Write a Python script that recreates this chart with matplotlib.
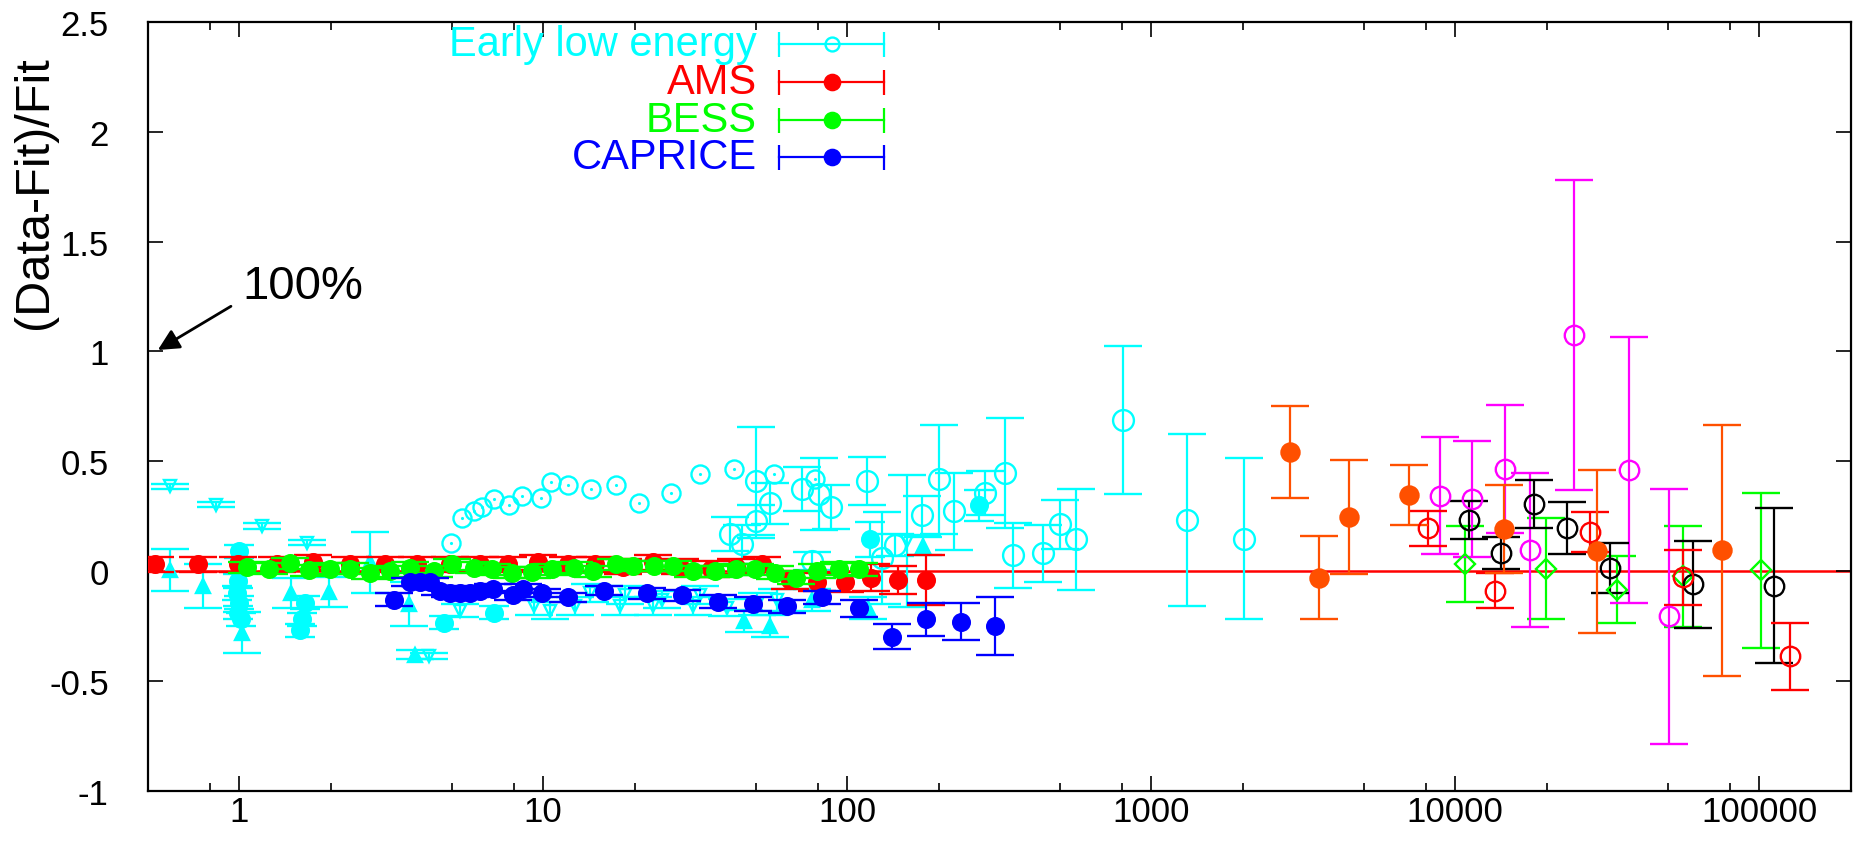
"""
Residuals (Data-Fit)/Fit of cosmic ray flux measurements vs energy,
redrawn from a gnuplot figure.
"""

import numpy as np
import matplotlib
matplotlib.use("Agg")
import matplotlib.pyplot as plt
from matplotlib.ticker import FixedLocator, FixedFormatter, LogLocator, NullFormatter

plt.rcParams["font.family"] = ["Liberation Sans", "DejaVu Sans"]

# ---- data ----
ams_x = [0.53, 0.73, 0.99, 1.33, 1.75, 2.32, 3.02, 3.85, 4.94, 6.21, 7.68, 9.63, 12.1,
         14.8, 18.3, 22.9, 28.2, 35.5, 42.9, 52.6, 65.0, 79.8, 98.6, 120, 147, 182]
ams_y = [0.03, 0.03, 0.03, 0.03, 0.04, 0.03, 0.03, 0.03, 0.03, 0.03, 0.03, 0.04, 0.03,
         0.03, 0.02, 0.04, 0.02, 0.01, 0.02, 0.03, -0.04, -0.05, -0.05, -0.03, -0.04, -0.04]
ams_err = [0.035, 0.035, 0.035, 0.035, 0.035, 0.035, 0.035, 0.035, 0.035, 0.035, 0.035, 0.035, 0.035,
           0.035, 0.035, 0.035, 0.035, 0.035, 0.035, 0.035, 0.04, 0.04, 0.045, 0.06, 0.065, 0.115]

bess_x = [1.06, 1.25, 1.47, 1.69, 1.99, 2.32, 2.70, 3.14, 3.65, 4.36, 5.01, 5.90, 6.79,
          7.89, 9.19, 10.7, 12.6, 14.6, 17.3, 19.8, 23.1, 26.8, 31.2, 36.8, 42.9, 49.9,
          58.0, 67.6, 79.5, 93.7, 109]
bess_y = [0.018, 0.011, 0.035, 0.003, 0.011, 0.011, -0.01, 0.0, 0.015, 0.0, 0.03, 0.015, 0.008,
          -0.007, -0.005, 0.008, 0.015, 0.0, 0.03, 0.023, 0.023, 0.023, 0.0, 0.0, 0.008, 0.008,
          -0.007, -0.03, 0.0, 0.011, 0.008]
bess_err = [0.025, 0.025, 0.025, 0.025, 0.025, 0.025, 0.025, 0.025, 0.025, 0.025, 0.025, 0.025, 0.025,
            0.025, 0.025, 0.025, 0.025, 0.025, 0.025, 0.025, 0.025, 0.025, 0.025, 0.025, 0.025, 0.025,
            0.03, 0.03, 0.03, 0.03, 0.03]

caprice_x = [3.22, 3.65, 3.94, 4.25, 4.58, 4.95, 5.34, 5.76, 6.2, 6.85, 7.97, 8.6, 9.93,
             12.1, 15.8, 22.0, 28.7, 37.6, 49.1, 63.5, 82.8, 109, 140, 182, 236, 307]
caprice_y = [-0.13, -0.05, -0.05, -0.05, -0.09, -0.10, -0.10, -0.10, -0.09, -0.08, -0.11, -0.08, -0.10,
             -0.12, -0.09, -0.10, -0.11, -0.14, -0.15, -0.16, -0.12, -0.17, -0.30, -0.22, -0.23, -0.25]
caprice_err = [0.03, 0.02, 0.02, 0.02, 0.02, 0.02, 0.02, 0.02, 0.02, 0.02, 0.02, 0.02, 0.02,
               0.02, 0.02, 0.025, 0.025, 0.03, 0.03, 0.03, 0.03, 0.04, 0.057, 0.075, 0.083, 0.13]

early_x = [41.2, 45.1, 50.2, 50.2, 55.8, 71, 76.6, 80.5, 88.5, 116, 130, 144, 176, 201, 225,
           285, 331, 352, 440, 502, 567, 805, 1313, 2014]
early_y = [0.167, 0.121, 0.41, 0.227, 0.308, 0.374, 0.045, 0.35, 0.29, 0.41, 0.06, 0.117, 0.253, 0.417,
           0.273, 0.356, 0.447, 0.071, 0.08, 0.212, 0.144, 0.686, 0.232, 0.147]
early_err = [0.077, 0.09, 0.245, 0.075, 0.095, 0.1, 0.04, 0.165, 0.1, 0.11, 0.21, 0.05, 0.087, 0.25,
             0.175, 0.1, 0.25, 0.15, 0.13, 0.11, 0.23, 0.337, 0.39, 0.367]

dot_x = [4.99, 5.41, 5.9, 6.29, 6.87, 7.7, 8.5, 9.8, 10.6, 12.1, 14.4, 17.3, 20.7, 26.3,
         32.9, 42.5, 57.3, 78.5]
dot_y = [0.13, 0.243, 0.273, 0.29, 0.326, 0.303, 0.344, 0.334, 0.405, 0.39, 0.375, 0.39, 0.31, 0.356,
         0.444, 0.465, 0.44, 0.417]

cfill_x = [1.0, 0.99, 0.98, 1.0, 0.99, 1.01, 1.65, 1.61, 1.59, 4.7, 6.9, 119, 272]
cfill_y = [0.09, -0.045, -0.10, -0.145, -0.19, -0.22, -0.145, -0.22, -0.27, -0.235, -0.19, 0.144, 0.30]
cfill_err = [0.03, 0.03, 0.03, 0.03, 0.03, 0.03, 0.03, 0.03, 0.03, 0.03, 0.03, 0.08, 0.07]

cup_x = [0.59, 0.76, 1.02, 1.48, 1.98, 2.69, 3.61, 3.78, 45.6, 55.8, 76.6, 117, 178]
cup_y = [0.005, -0.07, -0.28, -0.10, -0.095, 0.04, -0.15, -0.38, -0.227, -0.25, -0.13, -0.17, 0.114]
cup_err = [0.095, 0.1, 0.095, 0.07, 0.07, 0.14, 0.1, 0.02, 0.05, 0.05, 0.05, 0.05, 0.04]

cdown_x = [0.59, 0.84, 1.19, 1.67, 4.2, 5.34, 9.3, 10.5, 12.7, 14.3, 17.9, 18.6, 23, 24.6,
           31.2, 32.9, 40.3, 50.5, 58.7, 157]
cdown_y = [0.386, 0.303, 0.205, 0.129, -0.386, -0.18, -0.16, -0.18, -0.16, -0.10, -0.16, -0.11, -0.16, -0.13,
           -0.16, -0.11, -0.166, -0.15, -0.13, 0.136]
cdown_err = [0.012, 0.012, 0.012, 0.012, 0.015, 0.03, 0.04, 0.04, 0.04, 0.04, 0.04, 0.04, 0.04, 0.04,
             0.04, 0.04, 0.04, 0.05, 0.05, 0.3]

orange_x = [2852, 3572, 4487, 7025, 14430, 29380, 75500]
orange_y = [0.543, -0.03, 0.245, 0.347, 0.192, 0.09, 0.094]
orange_err = [0.21, 0.19, 0.26, 0.136, 0.2, 0.37, 0.57]

redo_x = [8140, 13480, 27680, 56370, 126000]
redo_y = [0.195, -0.089, 0.178, -0.028, -0.389]
redo_err = [0.08, 0.08, 0.09, 0.126, 0.153]

mag_x = [8890, 11350, 14590, 17660, 24660, 37330, 50600]
mag_y = [0.343, 0.329, 0.465, 0.096, 1.075, 0.46, -0.206]
mag_err = [0.266, 0.263, 0.29, 0.35, 0.704, 0.607, 0.58]

blk_x = [11130, 14150, 18200, 23330, 32360, 60800, 111500]
blk_y = [0.233, 0.082, 0.305, 0.195, 0.012, -0.061, -0.066]
blk_err = [0.085, 0.072, 0.11, 0.118, 0.114, 0.2, 0.353]

gdia_x = [10740, 19930, 34050, 56370, 101600]
gdia_y = [0.033, 0.01, -0.084, -0.023, 0.003]
gdia_err = [0.174, 0.23, 0.153, 0.23, 0.354]

legend_names = ["Early low energy", "AMS", "BESS", "CAPRICE"]
legend_colors = ["#00ffff", "#ff0000", "#00ff00", "#0000ff"]

x_major = [1, 10, 100, 1000, 10000, 100000]
x_labels = ["1", "10", "100", "1000", "10000", "100000"]
y_major = [-1, -0.5, 0, 0.5, 1, 1.5, 2, 2.5]
y_labels = ["-1", "-0.5", "0", "0.5", "1", "1.5", "2", "2.5"]

CYAN = "#00ffff"
LW = 1.6
CAP = 14

fig = plt.figure(figsize=(18.54, 8.45), dpi=100)
ax = fig.add_axes([0.0797, 0.0631, 0.9185, 0.9097])


def ebar(x, y, err, color, marker, ms, filled=True, cap=CAP, z=3):
    ax.errorbar(x, y, yerr=err, fmt=marker, color=color, ms=ms,
                mfc=color if filled else "none", mec=color, mew=1.7,
                elinewidth=LW, capsize=cap, capthick=LW, zorder=z)


ax.axhline(0.0, color="#ff0000", lw=1.8, zorder=1)

# high energy sets
ebar(gdia_x, gdia_y, gdia_err, "#00ff00", "D", 10, filled=False)
ebar(mag_x, mag_y, mag_err, "#ff00ff", "o", 14, filled=False)
ebar(blk_x, blk_y, blk_err, "black", "o", 14, filled=False)
ebar(redo_x, redo_y, redo_err, "#ff0000", "o", 14, filled=False)
ebar(orange_x, orange_y, orange_err, "#ff5000", "o", 13)

# cyan low energy sets
ebar(early_x, early_y, early_err, CYAN, "o", 15, filled=False)
ebar(cdown_x, cdown_y, cdown_err, CYAN, "v", 9, filled=False)
ebar(cup_x, cup_y, cup_err, CYAN, "^", 10)
ebar(cfill_x, cfill_y, cfill_err, CYAN, "o", 12, cap=11)
ax.plot(dot_x, dot_y, "o", ms=13, mfc="none", mec=CYAN, mew=1.7, zorder=3)
ax.plot(dot_x, dot_y, ".", ms=2.5, color=CYAN, zorder=3)

# main data sets
ebar(ams_x, ams_y, ams_err, "#ff0000", "o", 12, z=4)
ebar(bess_x, bess_y, bess_err, "#00ff00", "o", 12, z=5)
ebar(caprice_x, caprice_y, caprice_err, "#0000ff", "o", 12, z=6)

ax.set_xscale("log")
ax.set_xlim(0.5, 2e5)
ax.set_ylim(-1, 2.5)

ax.xaxis.set_major_locator(FixedLocator(x_major))
ax.xaxis.set_major_formatter(FixedFormatter(x_labels))
ax.xaxis.set_minor_locator(LogLocator(base=10, subs=(0.2, 0.5, 0.8), numticks=20))
ax.xaxis.set_minor_formatter(NullFormatter())
ax.yaxis.set_major_locator(FixedLocator(y_major))
ax.yaxis.set_major_formatter(FixedFormatter(y_labels))

ax.tick_params(which="both", direction="in", top=True, right=True, width=1.2, colors="black")
ax.tick_params(which="major", length=11, labelsize=25)
ax.tick_params(which="minor", length=6)
ax.tick_params(axis="y", pad=28)
ax.tick_params(axis="x", pad=3)
for s in ax.spines.values():
    s.set_linewidth(1.6)

fig.text(35 / 1854, 1 - 193 / 845, "(Data-Fit)/Fit", rotation=90,
         ha="center", va="center", fontsize=35)

# 100% marker
ax.annotate("", xy=(0.53, 1.0), xytext=(0.956, 1.212),
            arrowprops=dict(arrowstyle="-|>", color="black", lw=2, mutation_scale=32))
ax.text(1.02, 1.244, "100%", fontsize=34, ha="left", va="baseline")

# legend, gnuplot style: right-aligned text, horizontal error bar sample
rows = [0.9714, 0.922, 0.8725, 0.8244]
for name, col, yy, i in zip(legend_names, legend_colors, rows, range(4)):
    ax.text(0.3578, yy, name, color=col, fontsize=30, ha="right", va="center",
            transform=ax.transAxes)
    ax.plot([0.3706, 0.4323], [yy, yy], color=col, lw=LW, marker="|", ms=18,
            mew=LW, transform=ax.transAxes, clip_on=False)
    ax.plot([0.4018], [yy], marker="o", ms=10 if i == 0 else 11,
            mfc="none" if i == 0 else col, mec=col, mew=1.7,
            transform=ax.transAxes, clip_on=False)

fig.savefig("out.png", dpi=100)
